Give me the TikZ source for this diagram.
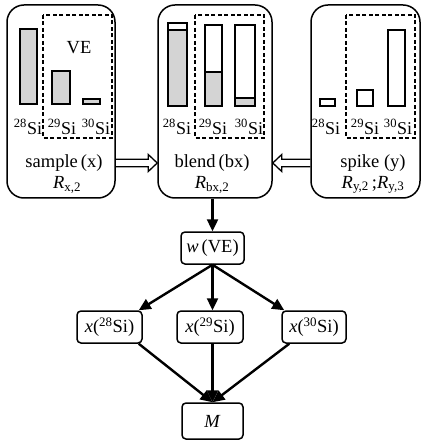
\documentclass[tikz,border=0pt]{standalone}
\usepackage{fontspec}
\setmainfont{Liberation Serif}
\usetikzlibrary{arrows.meta,calc}
\begin{document}
\begin{tikzpicture}[x=1pt,y=-1pt,
  bigbox/.style={draw,line width=1.5pt,rounded corners=17pt,minimum width=#1,minimum height=193pt,inner sep=0pt},
  smallbox/.style={draw,line width=1.5pt,rounded corners=4pt,minimum width=64pt,minimum height=32pt,inner sep=0pt,font=\fontsize{18.5}{20}\selectfont},
  bar/.style={draw,line width=2.4pt},
  gbar/.style={draw,line width=2.4pt,fill=black!17},
  dbox/.style={draw,line width=1.5pt,dash pattern=on 4pt off 2.5pt},
  lab/.style={font=\fontsize{18}{20}\selectfont,inner sep=0pt},
  txt/.style={font=\fontsize{18.5}{20}\selectfont,inner sep=0pt},
  hollow/.style={draw,line width=1.3pt,line join=miter},
  arr/.style={line width=2.4pt,-{Triangle[length=12pt,width=11pt]}}
]
\useasboundingbox (0,0) rectangle (425,443);
% big boxes
\node[bigbox=108pt] (sample) at (61,101.5) {};
\node[bigbox=114pt] (blend) at (215,101.5) {};
\node[bigbox=109pt] (spike) at (365.5,101.5) {};
% dashed boxes
\draw[dbox] (43,15) rectangle (112,138);
\draw[dbox] (195,15) rectangle (264,138);
\draw[dbox] (346,15) rectangle (415,138);
\node[txt] (ve) at (79,48) {VE};
% sample bars
\draw[gbar] (20,29) rectangle (37,104);
\draw[gbar] (52,71) rectangle (70,104);
\draw[gbar] (83,99) rectangle (100,104);
% blend bars
\fill[black!17] (168,30) rectangle (187,106);
\draw[bar] (168,23) rectangle (187,106);
\draw[bar] (168,30) -- (187,30);
\fill[black!17] (205,72) rectangle (222,106);
\draw[bar] (205,25) rectangle (222,106);
\draw[bar] (205,72) -- (222,72);
\fill[black!17] (235,98) rectangle (255,106);
\draw[bar] (235,25) rectangle (255,106);
\draw[bar] (235,98) -- (255,98);
% spike bars
\draw[bar] (320,99) rectangle (335,106);
\draw[bar] (357,90) rectangle (373,106);
\draw[bar] (388,30) rectangle (405,106);
% isotope labels
\node[lab] (s28) at (28,127) {\textsuperscript{28}Si};
\node[lab] (s29) at (62,127) {\textsuperscript{29}Si};
\node[lab] (s30) at (96,127) {\textsuperscript{30}Si};
\node[lab] (b28) at (177,127) {\textsuperscript{28}Si};
\node[lab] (b29) at (213,127) {\textsuperscript{29}Si};
\node[lab] (b30) at (249,127) {\textsuperscript{30}Si};
\node[lab] (p28) at (326,127) {\textsuperscript{28}Si};
\node[lab] (p29) at (365,127) {\textsuperscript{29}Si};
\node[lab] (p30) at (398,127) {\textsuperscript{30}Si};
% names
\node[txt] (sname) at (64,163) {sample\,(x)};
\node[txt] (sr) at (67,185) {\textit{R}\textsubscript{x,2}};
\node[txt] (bname) at (212,163) {blend\,(bx)};
\node[txt] (br) at (212,185) {\textit{R}\textsubscript{bx,2}};
\node[txt] (pname) at (373,163) {spike (y)};
\node[txt] (pr) at (373,185) {\textit{R}\textsubscript{y,2}\,;\textit{R}\textsubscript{y,3}};
% hollow double arrows
\coordinate (la) at (sample.east |- sname);
\coordinate (lb) at (blend.west |- sname);
\coordinate (ra) at (spike.west |- sname);
\coordinate (rb) at (blend.east |- sname);
\draw[hollow] ($(la)+(0,-3.8)$) -- ($(lb)+(-9,-3.8)$) -- ($(lb)+(-9,-8.5)$) -- (lb)
  -- ($(lb)+(-9,8.5)$) -- ($(lb)+(-9,3.8)$) -- ($(la)+(0,3.8)$);
\draw[hollow] ($(ra)+(0,-3.8)$) -- ($(rb)+(9,-3.8)$) -- ($(rb)+(9,-8.5)$) -- (rb)
  -- ($(rb)+(9,8.5)$) -- ($(rb)+(9,3.8)$) -- ($(ra)+(0,3.8)$);
% lower nodes
\node[smallbox,minimum width=63pt] (w) at (212.5,248) {\textit{w}\,(VE)};
\node[smallbox,minimum width=65pt] (x28) at (109.5,327) {\textit{x}(\textsuperscript{28}Si)};
\node[smallbox,minimum width=66pt] (x29) at (210,327) {\textit{x}(\textsuperscript{29}Si)};
\node[smallbox,minimum width=64pt] (x30) at (314,327) {\textit{x}(\textsuperscript{30}Si)};
\node[smallbox,minimum width=61pt,minimum height=36pt] (M) at (212.5,421) {\textit{M}};
% arrows
\draw[arr] (w.north |- blend.south) -- (w.north);
\draw[arr] (w.south) -- ($(x28.north east)+(-4,0)$);
\draw[arr] (w.south) -- (w.south |- x29.north);
\draw[arr] (w.south) -- ($(x30.north west)+(3,0)$);
\draw[arr] ($(x28.south east)+(-4,0)$) -- (M.north);
\draw[arr] (x29.south -| M.north) -- (M.north);
\draw[arr] ($(x30.south west)+(8,0)$) -- (M.north);
\end{tikzpicture}
\end{document}
